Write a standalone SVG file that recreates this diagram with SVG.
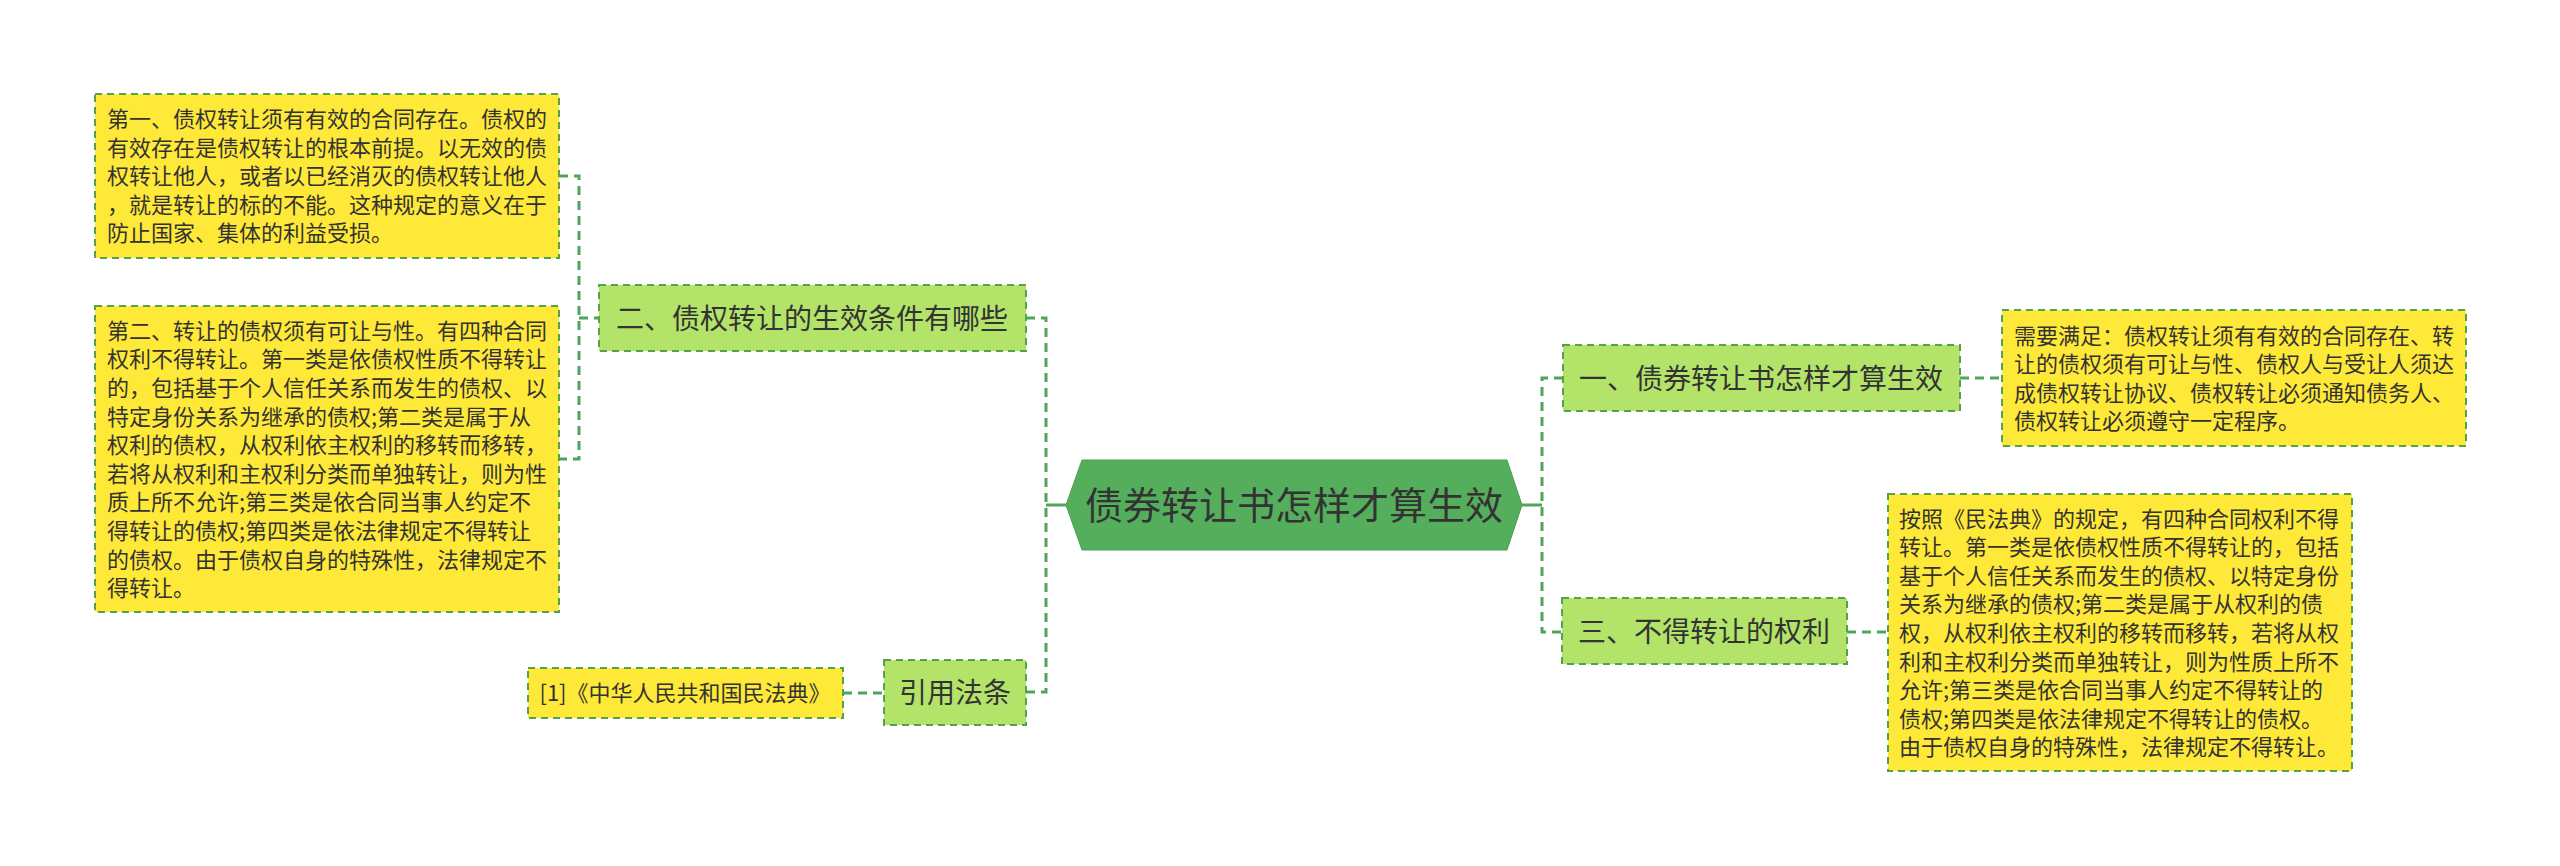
<svg xmlns="http://www.w3.org/2000/svg" width="2560" height="866" viewBox="0 0 2560 866">
<style>
text{font-family:"Noto Sans CJK SC","Noto Sans",sans-serif;fill:#333333}
.note{fill:#ffe938;stroke:#56a24c;stroke-width:2;stroke-dasharray:7 5}
.sub{fill:#b4e36a;stroke:#56a24c;stroke-width:2;stroke-dasharray:7 5}
.t22{font-size:22px}
.t28{font-size:28px}
.conn{fill:none;stroke:#4fa65a;stroke-width:3;stroke-dasharray:9 6}
.solid{fill:none;stroke:#4fa65a;stroke-width:3}
</style>
<rect width="2560" height="866" fill="#ffffff"/>
<g id="connectors">
<path class="conn" d="M559 176 H579 V459 H559"/>
<path class="conn" d="M579 318 H599"/>
<path class="conn" d="M1026 318 H1046 V692 H1026"/>
<path class="solid" d="M1046 505 H1066"/>
<path class="conn" d="M843 693 H884"/>
<path class="solid" d="M1522 505 H1542"/>
<path class="conn" d="M1563 378 H1542 V632 H1562"/>
<path class="conn" d="M1960 378 H2002"/>
<path class="conn" d="M1847 632 H1888"/>
</g>
<g id="center">
<polygon points="1066,505 1082,460 1507,460 1522,505 1507,550 1082,550" fill="#55ae5c" stroke="#4a9e52" stroke-width="1"/>
<text x="1294" y="519" font-size="38" text-anchor="middle">债券转让书怎样才算生效</text>
</g>
<g id="node-er">
<rect class="sub" x="599" y="285" width="427" height="66"/>
<text class="t28" x="812" y="329" text-anchor="middle">二、债权转让的生效条件有哪些</text>
</g>
<g id="note-left1">
<rect class="note" x="95" y="94" width="464" height="164"/>
<text class="t22" x="107">
<tspan x="107" y="127">第一、债权转让须有有效的合同存在。债权的</tspan>
<tspan x="107" y="155.6">有效存在是债权转让的根本前提。以无效的债</tspan>
<tspan x="107" y="184.2">权转让他人，或者以已经消灭的债权转让他人</tspan>
<tspan x="107" y="212.8">，就是转让的标的不能。这种规定的意义在于</tspan>
<tspan x="107" y="241.4">防止国家、集体的利益受损。</tspan>
</text>
</g>
<g id="note-left2">
<rect class="note" x="95" y="306" width="464" height="306"/>
<text class="t22">
<tspan x="107" y="338.7">第二、转让的债权须有可让与性。有四种合同</tspan>
<tspan x="107" y="367.3">权利不得转让。第一类是依债权性质不得转让</tspan>
<tspan x="107" y="395.9">的，包括基于个人信任关系而发生的债权、以</tspan>
<tspan x="107" y="424.5">特定身份关系为继承的债权;第二类是属于从</tspan>
<tspan x="107" y="453.1">权利的债权，从权利依主权利的移转而移转，</tspan>
<tspan x="107" y="481.7">若将从权利和主权利分类而单独转让，则为性</tspan>
<tspan x="107" y="510.3">质上所不允许;第三类是依合同当事人约定不</tspan>
<tspan x="107" y="538.9">得转让的债权;第四类是依法律规定不得转让</tspan>
<tspan x="107" y="567.5">的债权。由于债权自身的特殊性，法律规定不</tspan>
<tspan x="107" y="596.1">得转让。</tspan>
</text>
</g>
<g id="node-cite">
<rect class="sub" x="884" y="660" width="142" height="65"/>
<text class="t28" x="955" y="703" text-anchor="middle">引用法条</text>
</g>
<g id="note-cite">
<rect class="note" x="528" y="668" width="315" height="50"/>
<text class="t22" x="685" y="701" text-anchor="middle">[1]《中华人民共和国民法典》</text>
</g>
<g id="node-yi">
<rect class="sub" x="1563" y="345" width="397" height="66"/>
<text class="t28" x="1761" y="389" text-anchor="middle">一、债券转让书怎样才算生效</text>
</g>
<g id="note-right1">
<rect class="note" x="2002" y="310" width="464" height="136"/>
<text class="t22">
<tspan x="2014" y="343.6">需要满足：债权转让须有有效的合同存在、转</tspan>
<tspan x="2014" y="372.2">让的债权须有可让与性、债权人与受让人须达</tspan>
<tspan x="2014" y="400.8">成债权转让协议、债权转让必须通知债务人、</tspan>
<tspan x="2014" y="429.4">债权转让必须遵守一定程序。</tspan>
</text>
</g>
<g id="node-san">
<rect class="sub" x="1562" y="598" width="285" height="66"/>
<text class="t28" x="1704" y="642" text-anchor="middle">三、不得转让的权利</text>
</g>
<g id="note-right2">
<rect class="note" x="1888" y="494" width="464" height="277"/>
<text class="t22">
<tspan x="1899" y="526.6">按照《民法典》的规定，有四种合同权利不得</tspan>
<tspan x="1899" y="555.2">转让。第一类是依债权性质不得转让的，包括</tspan>
<tspan x="1899" y="583.8">基于个人信任关系而发生的债权、以特定身份</tspan>
<tspan x="1899" y="612.4">关系为继承的债权;第二类是属于从权利的债</tspan>
<tspan x="1899" y="641">权，从权利依主权利的移转而移转，若将从权</tspan>
<tspan x="1899" y="669.6">利和主权利分类而单独转让，则为性质上所不</tspan>
<tspan x="1899" y="698.2">允许;第三类是依合同当事人约定不得转让的</tspan>
<tspan x="1899" y="726.8">债权;第四类是依法律规定不得转让的债权。</tspan>
<tspan x="1899" y="755.4">由于债权自身的特殊性，法律规定不得转让。</tspan>
</text>
</g>
</svg>
